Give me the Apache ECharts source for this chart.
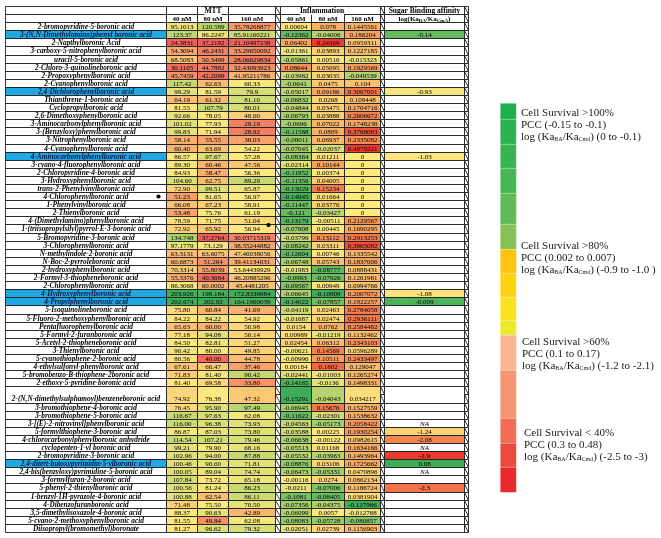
<!DOCTYPE html>
<html><head><meta charset="utf-8">
<script src="https://cdn.jsdelivr.net/npm/echarts@6/dist/echarts.min.js"></script>
<style>html,body{margin:0;padding:0;background:#fff}#c{width:661px;height:538px}</style>
</head><body><div id="c"></div>
<script>
// ---------------- DATA ----------------
const compounds = [
'2-bromopyridine-5-boronic acid','3-(N,N-Dimethylamino)phenyl boronic acid','2-Napthylboronic Acid','3-carboxy-5-nitrophenylboronic acid','uracil-5-boronic acid','2-Chloro-3-quinolineboronic acid','2-Propoxyphenylboronic acid','2-Cyanophenylboronic acid','2,4-Dichlorophenylboronic acid','Thianthrene-1-boronic acid',
'Cyclopropylboronic acid','2,6-Dimethoxyphenylboronic acid','3-Aminocarbonylphenylboronic acid','3-(Benzyloxy)phenylboronic acid','3-Nitrophenylboronic acid','4-Cyanophenylboronic acid','4-Aminocarbonylphenylboronic acid','3-cyano-4-fluorophenylboronic acid','2-Chloropyridine-4-boronic acid','3-Hydroxyphenylboronic acid',
'trans-2-Phenylvinylboronic acid','4-Chlorophenylboronic acid','1-Phenylvinylboronic acid','2-Thienylboronic acid','4-(Dimethylamino)phenylboronic acid','1-(triisopropylsilyl)pyrrol-E-3-boronic acid','5-Bromopyridine-3-boronic acid','3-Chlorophenylboronic acid','N-methylindole-2-boronic acid','N-Boc-2-pyrroleboronic acid',
'2-hydroxyphenylboronic acid','2-Formyl-3-thiopheneboronic acid','2-Chlorophenylboronic acid','4-Hydroxyphenylboronic acid','4-Propylphenylboronic acid','5-Isoquinolineboronic acid','5-Fluoro-2-methoxyphenylboronic acid','Pentafluorophenylboronic acid','5-Formyl-2-furanboronic acid','5-Acetyl-2-thiopheneboronic acid',
'3-Thienylboronic acid','5-cyanothiophene-2-boronic acid','4-ethylsulfonyl-phenylboronic acid','5-bromobenzo-B-thiophene-2boronic acid','2-ethoxy-5-pyridine-boronic acid','2-(N,N-dimethylsulphamoyl)benzeneboronic acid','3-bromothiophene-4-boronic acid','3-bromothiophene-5-boronic acid','3-[(E)-2-nitrovinyl]phenylboronic acid','5-formylthiophene-3-boronic acid',
'4-chlorocarbonylphenylboronic anhydride','cyclopenten-1-yl boronic acid','2-bromopyridine-3-boronic acid','2,4-ditert-butoxypyrimidin-5-ylboronic acid','2,4-bis(benzyloxy)pyrimidine-5-boronic acid','3-formylfuran-2-boronic acid','5-phenyl-2-thienylboronic acid','1-benzyl-1H-pyrazole-4-boronic acid','4-Dibenzofuranboronic acid','3,5-dimethylisoxazole-4-boronic acid',
'5-cyano-2-methoxyphenylboronic acid','Diisopropyl(bromomethyl)boronate'];

const mtt40 = ['95.1013','123.37','24.3831','54.3094','68.5083','30.1105','45.7459','117.42','99.29','64.19','81.55','92.66','101.02','99.83','58.14','60.40','86.57','89.30','84.93','104.60','72.90','51.23','66.08','53.48','78.59','72.92','134.748','97.1779','63.3131','60.6873','70.3314','55.3376','86.3068','203.926','202.674','75.80','84.22','65.63','77.18','84.50','90.42','80.56','67.61','71.83','81.40','74.92','76.45','116.67','116.00','86.87','114.54','99.21','102.96','100.46','100.05','107.84','100.56','100.88','71.48','88.37','81.55','81.27'];
const mtt80 = ['120.589','86.2247','37.2192','46.2431','50.3499','44.7882','42.2099','62.63','81.59','61.32','107.79','78.05','77.93','71.94','55.55','63.69','97.67','60.46','58.47','62.75','99.51','81.65','67.23','75.76','71.75','65.92','37.2764','73.129','63.6075','51.264','55.8039','40.3684','60.0002','198.184','202.92','60.84','84.22','60.00','94.08','82.81','80.00','40.00','66.47','81.40','69.58','76.38','95.90','97.63','96.38','87.03','107.21','79.90','94.00','90.60','89.04','73.72','81.24','62.54','75.50','90.63','49.84','96.62'];
const mtt160 = ['35.78268877','85.91160221','21.10497238','33.29650092','28.06629834','32.43093923','41.95211786','60.33','79.9','81.10','80.01','48.60','29.19','28.92','38.03','54.22','57.28','47.56','56.36','89.29','65.87','56.97','58.91','61.19','51.04','56.94','30.03715319','38.55244882','47.46038056','39.41134031','53.64439929','46.20885296','45.4481205','172.8339984','164.1960039','41.69','54.92','50.98','50.14','51.27','49.85','44.78','37.46','90.42','33.80','47.32','97.49','62.08','73.93','73.80','79.46','68.16','87.88','71.81','74.74','65.18','86.23','86.11','70.50','42.89','62.08','79.32'];
const infl40 = ['0.00604','-0.12362','0.06402','-0.01361','-0.05861','0.08644','-0.03982','-0.0641','-0.05017','-0.06832','-0.04844','-0.06793','-0.0696','-0.11588','-0.08011','-0.07045','-0.08384','-0.02314','-0.11952','-0.11356','-0.13029','-0.14945','-0.11447','-0.121','-0.13179','-0.07808','-0.03799','-0.08242','-0.12604','-0.06748','-0.01983','-0.0993','-0.09567','-0.06645','-0.14022','-0.04119','-0.01687','0.0154','0.00989','0.02454','-0.00621','-0.00996','0.00184','-0.02441','-0.14165','-0.15291','-0.06945','-0.11622','-0.04563','-0.03588','-0.06638','-0.05513','-0.05532','-0.08876','-0.06473','-0.00116','-0.0211','-0.1081','-0.07356','-0.06099','-0.08083','-0.02051'];
const infl80 = ['0.078','-0.04006','0.24369','0.03893','0.00516','0.05095','0.03035','0.0475','0.09186','0.0268','0.03475','0.03888','0.07022','0.0809','0.06937','-0.02037','0.01211','0.10144','0.00374','0.04005','0.15234','0.01664','0.03776','-0.03427','-0.00511','0.00445','0.13112','0.03311','0.00746','0.05743','-0.08777','-0.07926','0.00949','-0.10808','-0.07857','0.02463','0.02474','0.0762','-0.01219','0.06312','0.14569','0.10511','0.1802','-0.01003','-0.0136','-0.04043','0.15676','-0.02301','-0.05173','0.00225','-0.00122','0.01168','-0.03963','0.03106','-0.05331','0.0274','-0.07006','-0.08405','-0.04375','0.0057','-0.05728','0.02739'];
const infl160 = ['0.1445561','0.186204','0.0959311','0.1227185','-0.015323','0.1929569','-0.049539','0.104','0.3067001','0.109448','0.1704716','0.2606672','0.1748238','0.3768083','0.2335082','0.4879221','0','0','0','0','0','0','0','0','0.2129567','0.1690295','0.2913253','0.3965082','0.1335542','0.1837006','0.0888431','0.1261981','0.0994766','0.2007072','0.1922257','0.2784058','0.2936111','0.2584482','0.1132462','0.2343103','0.0596289','0.2433497','0.129047','0.1265274','0.1498331','0.034217','0.1527559','0.1538632','0.2058422','0.1930254','0.0982615','0.1634166','0.1493964','0.1725662','0.0470896','0.0862134','0.1186724','0.0381904','-0.127966','-0.012768','-0.080857','0.1156903'];
const sugarAffinity = [null,'-0.14',null,null,null,null,null,null,'-0.93',null,
null,null,null,null,null,null,'-1.03',null,null,null,
null,null,null,null,null,null,null,null,null,null,
null,null,null,'-1.08','-0.009',null,null,null,null,null,
null,null,null,null,null,null,null,null,'NA','-1.24',
'-2.08','NA','-2.9','0.08','NA',null,'-2.3',null,null,null,
null,null];
const highlightedRows = [1, 8, 16, 33, 34, 53];
const doubleHeightRows = [45];
const doseLabels = ['40 nM', '80 nM', '160 nM'];
const groupLabels = ['MTT', 'Inflammation', 'Sugar Binding affinity'];
const markerRows = [{row: 21, column: 'name', off: [72.5, 0]}, {row: 24, column: 'mtt160', off: [16.5, 4.5]}];

const legendSegmentColors = ['#21AF4E','#2BB151','#38B353','#49B655','#61BA55','#84C256','#FFC20E','#FDD213','#F6E21E','#EDE82A','#F8B58E','#F49470','#EF6D55','#EB4A3F','#E8292B'];
const legendSegmentEdges = [103,119,144,168,193,224,249,273,297,320,335,370,418,443,467,492];

// ---------------- HELPERS ----------------
const FONT = '"Liberation Serif","Times New Roman",serif';
const LINE = '#1e1e1e';
const RED = '#EE3B31', RED_MTT = '#F0605A', YEL = '#FEE97F', GRN = '#3DAE57';
function rgb(h){return [parseInt(h.slice(1,3),16),parseInt(h.slice(3,5),16),parseInt(h.slice(5,7),16)];}
function mix(a,b,t){const A=rgb(a),B=rgb(b);return 'rgb('+A.map((v,i)=>Math.round(v+(B[i]-v)*t)).join(',')+')';}
function clamp(t){return Math.max(0,Math.min(1,t));}
function scale3(v,lo,mid,hi,cLo,cMid,cHi){
  if (v<=mid) return mix(cMid,cLo,clamp((mid-v)/(mid-lo)));
  return mix(cMid,cHi,clamp((v-mid)/(hi-mid)));
}
function median(a){const s=[...a].sort((x,y)=>x-y);const n=s.length;return n%2?s[(n-1)/2]:(s[n/2-1]+s[n/2])/2;}

const slots = ['h0','h1'];
const slotOfRow = [];
compounds.forEach((c,i)=>{slotOfRow.push(slots.length);const sp=doubleHeightRows.includes(i)?2:1;for(let k=0;k<sp;k++)slots.push('r'+i+'_'+k);});
const spanOf = i => doubleHeightRows.includes(i)?2:1;

const VFONT = '7px '+FONT, HFONT = 'bold 7px '+FONT, NFONT = 'italic bold 7.3px '+FONT;

function header(row0, row1, tb){
  return [
    {slot:0, span:1, fill: tb?null:'#fff', edges: tb?'tb':'all', text:row0, font:'bold 7.5px '+FONT, dx: tb&&row0?-6:0, bg: !!row0},
    {slot:1, span:1, fill:'#fff', text:row1, font:HFONT}
  ];
}
function valueCells(vals, colorFn){
  return vals.map((s,i)=>({slot:slotOfRow[i], span:spanOf(i), fill:colorFn(Number(s)), text:s, font:VFONT}));
}
function mttColor(vals){
  const n=vals.map(Number);const lo=Math.min(...n),hi=Math.max(...n),md=median(n);
  return v=>scale3(v,lo,md,hi,RED_MTT,YEL,GRN);
}
function inflColor(vals, upper){
  const n=vals.map(Number);const lo=Math.min(...n);
  return v=>scale3(v,lo,0,upper,GRN,YEL,RED);
}

const columns = [];
columns.push({key:'name', left:5, right:166, cells:[...header('',''), ...compounds.map((c,i)=>({slot:slotOfRow[i], span:spanOf(i), fill: highlightedRows.includes(i)?'#22A8E1':'#fff', text:c, font:NFONT, color: highlightedRows.includes(i)?'#0d1747':'#000'}))]});
columns.push({key:'mtt40', left:166, right:197, cells:[...header('',doseLabels[0]), ...valueCells(mtt40, mttColor(mtt40))]});
columns.push({key:'mtt80', left:197, right:228, cells:[...header(groupLabels[0],doseLabels[1]), ...valueCells(mtt80, mttColor(mtt80))]});
columns.push({key:'mtt160', left:228, right:275, cells:[...header('',doseLabels[2]), ...valueCells(mtt160, mttColor(mtt160))]});
columns.push({key:'hatch1', left:275, right:280, hatch:true});
columns.push({key:'infl40', left:280, right:311, cells:[...header('',doseLabels[0],true), ...valueCells(infl40, inflColor(infl40,0.17))]});
columns.push({key:'infl80', left:311, right:344, cells:[...header(groupLabels[1],doseLabels[1],true), ...valueCells(infl80, inflColor(infl80,0.244))]});
columns.push({key:'infl160', left:344, right:380, cells:[...header('',doseLabels[2],true), ...valueCells(infl160, inflColor(infl160,0.45))]});
columns.push({key:'hatch2', left:380, right:384, hatch:true});
const sugarHead = [
  {slot:0, span:1, fill:'#fff', text:groupLabels[2], font:'bold 7.5px '+FONT},
  {slot:1, span:1, fill:'#fff', text:'{a|log(Ka}{b|BA}{a|/Ka}{b|CmA}{a|)}', font:HFONT,
   rich:{a:{fontFamily:FONT,fontWeight:'bold',fontSize:7,lineHeight:8,verticalAlign:'bottom'},b:{fontFamily:FONT,fontWeight:'bold',fontSize:5,lineHeight:6,verticalAlign:'bottom'}}}
];
columns.push({key:'sugar', left:384, right:464, cells:[...sugarHead, ...sugarAffinity.map((s,i)=>{
  const base={slot:slotOfRow[i], span:spanOf(i), fill:'#fff', text:'', font:VFONT};
  if (s===null) return base;
  if (s==='NA') return Object.assign(base,{text:'NA', font:'italic 7px '+FONT});
  return Object.assign(base,{text:s, fill:scale3(Number(s),-2.9,-1.0,0.08,RED,YEL,GRN)});
})]});
columns.push({key:'hatch3', left:464, right:468, hatch:true});

columns.forEach(col=>{
  if (col.hatch) col.cells = slots.map((s,k)=>({slot:k, span:1, fill:'#fff', hatch:true}));
});
markerRows.forEach(m=>{
  const col = columns.find(c=>c.key===m.column);
  const cell = col.cells.find(c=>c.slot===slotOfRow[m.row]);
  cell.marker = m.off;
});

function makeRender(cells){
  return function(params, api){
    const cell = cells[params.dataIndex];
    const c = api.coord([0, cell.slot]);
    const s = api.size([1,1]);
    const x0 = Math.round(c[0]-s[0]/2)+0.5, x1 = Math.round(c[0]+s[0]/2)+0.5;
    const y0 = Math.round(c[1]-s[1]/2)+0.5, y1 = Math.round(c[1]-s[1]/2+s[1]*cell.span)+0.5;
    const ch = [];
    ch.push({type:'rect', shape:{x:x0,y:y0,width:x1-x0,height:y1-y0}, style:{fill:cell.fill||null, stroke: cell.edges==='tb'?null:LINE, lineWidth:0.9}});
    if (cell.edges==='tb'){
      ch.push({type:'line', shape:{x1:x0,y1:y0,x2:x1,y2:y0}, style:{stroke:LINE,lineWidth:0.9}});
      ch.push({type:'line', shape:{x1:x0,y1:y1,x2:x1,y2:y1}, style:{stroke:LINE,lineWidth:0.9}});
    }
    if (cell.hatch){
      ch.push({type:'line', shape:{x1:x0,y1:y0,x2:x1,y2:y1}, style:{stroke:'#222',lineWidth:0.9}});
    }
    if (cell.text){
      const ty = cell.span>1 ? (y1 - s[1]/2 - 0.5) : ((y0+y1)/2 + 0.5);
      const st = {x:(x0+x1)/2+(cell.dx||0), y:ty, text:cell.text, font:cell.font, fill:cell.color||'#000', align:'center', verticalAlign:'middle'};
      if (cell.rich) st.rich = cell.rich;
      if (cell.bg) { st.backgroundColor = '#fff'; }
      ch.push({type:'text', z2:20, style:st});
    }
    if (cell.marker){
      ch.push({type:'circle', z2:30, shape:{cx:(x0+x1)/2+cell.marker[0], cy:(y0+y1)/2+cell.marker[1], r:2.1}, style:{fill:'#000'}});
    }
    return {type:'group', children:ch};
  };
}

const TOP = 6, HEIGHT = 526;
const grid=[], xAxis=[], yAxis=[], series=[];
columns.forEach((col,i)=>{
  grid.push({left:col.left, top:TOP, width:col.right-col.left, height:HEIGHT, show:false});
  xAxis.push({type:'category', data:[col.key], gridIndex:i, show:false});
  yAxis.push({type:'category', data:slots, inverse:true, gridIndex:i, show:false});
  series.push({type:'custom', xAxisIndex:i, yAxisIndex:i, clip:false, silent:true,
    renderItem: makeRender(col.cells), data: col.cells.map(c=>[0, c.slot])});
});

const graphic = [];
for (let k=0;k<legendSegmentColors.length;k++){
  graphic.push({type:'rect', left:500, top:legendSegmentEdges[k], shape:{width:16, height:legendSegmentEdges[k+1]-legendSegmentEdges[k]}, style:{fill:legendSegmentColors[k], stroke:'rgba(255,255,255,0.35)', lineWidth:0.6}, silent:true});
}
const legendBlocks = [
  {x:521, y:113, lines:['Cell Survival >100%','PCC (-0.15 to -0.1)','(0 to -0.1)']},
  {x:521, y:246, lines:['Cell Survival >80%','PCC (0.002 to 0.007)','(-0.9 to -1.0 )']},
  {x:522, y:342, lines:['Cell Survival >60%','PCC (0.1 to 0.17)','(-1.2 to -2.1)']},
  {x:524, y:433, lines:['Cell Survival < 40%','PCC (0.3 to 0.48)','(-2.5 to -3)']}
];
const LR = {t:{fontFamily:FONT,fontSize:11,lineHeight:12,verticalAlign:'bottom',color:'#1a1a1a'}, s:{fontFamily:FONT,fontSize:6,lineHeight:9,verticalAlign:'bottom',color:'#1a1a1a'}};
legendBlocks.forEach(b=>{
  b.lines.forEach((ln,j)=>{
    const txt = j===2 ? '{t|log (Ka}{s|BA}{t|/Ka}{s|Cmd}{t|) '+ln+'}' : '{t|'+ln+'}';
    graphic.push({type:'text', x:b.x, y:b.y+j*11.6, silent:true,
      style:{text:txt, rich:LR, font:'11px '+FONT, fill:'#1a1a1a', verticalAlign:'middle', align:'left'}});
  });
});

const chart = echarts.init(document.getElementById('c'));
chart.setOption({animation:false, backgroundColor:'#fff', grid, xAxis, yAxis, series, graphic});
</script></body></html>
